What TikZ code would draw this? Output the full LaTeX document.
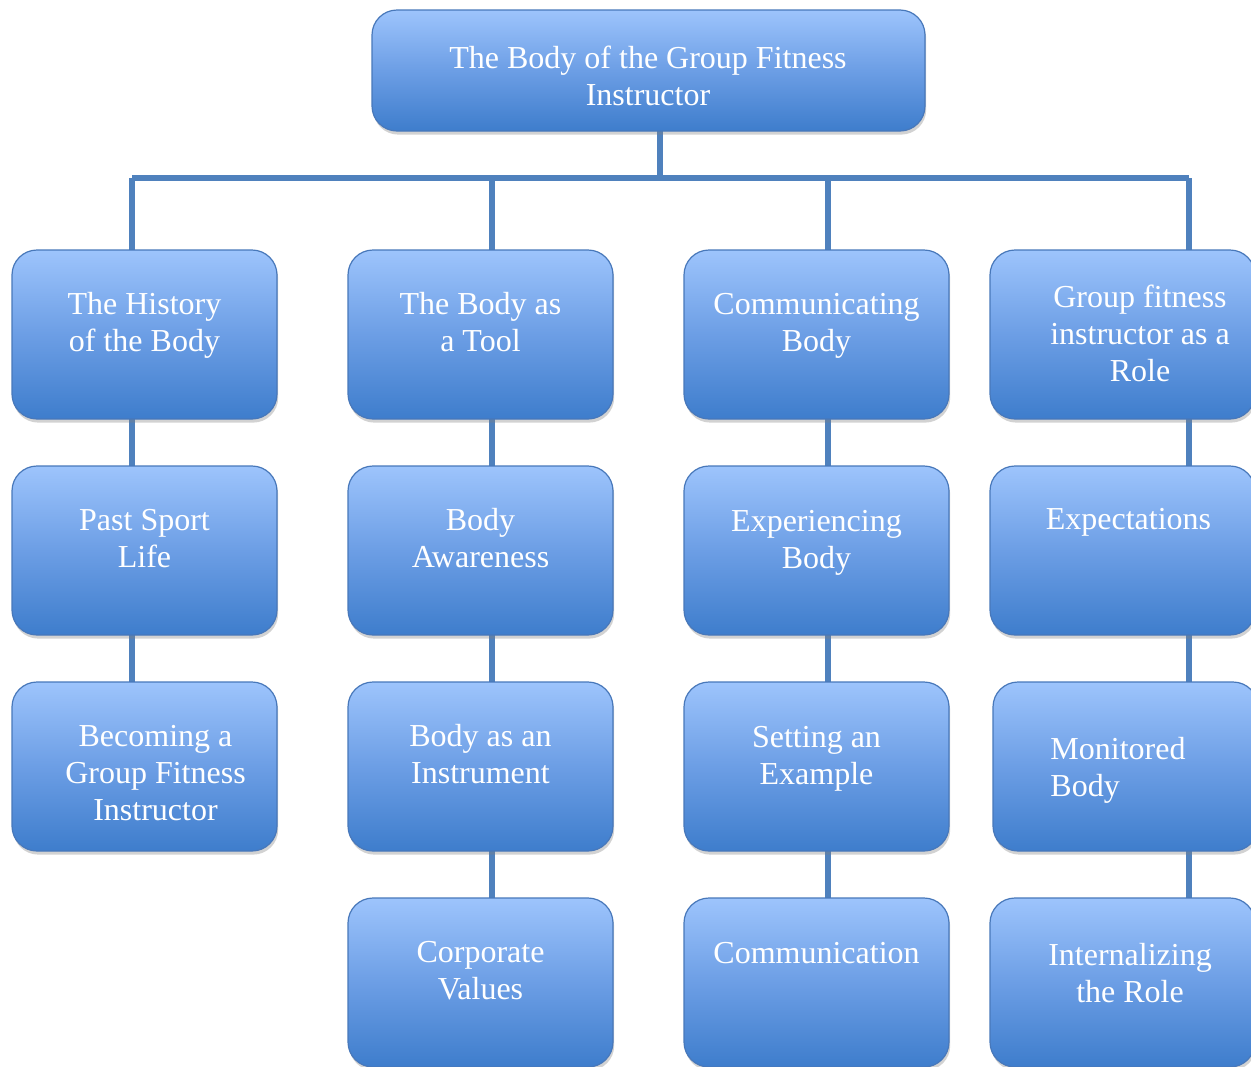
\documentclass[tikz,border=0pt]{standalone}
\usepackage{fontspec}
\setmainfont{Liberation Serif}
\usetikzlibrary{shadows}
\pgfdeclarelayer{backdrop}
\pgfdeclarelayer{background}
\pgfsetlayers{backdrop,background,main}
\definecolor{boxtop}{RGB}{157,196,252}
\definecolor{boxmid}{RGB}{108,158,229}
\definecolor{boxbot}{RGB}{62,125,204}
\definecolor{boxline}{RGB}{72,120,186}
\definecolor{linkblue}{RGB}{79,129,189}
\tikzset{
  box/.style={rectangle,rounded corners=12.5pt,draw=boxline,line width=0.6pt,
    top color=boxtop,bottom color=boxbot,middle color=boxmid,
    minimum width=132.5pt,minimum height=84.5pt,inner sep=0pt,outer sep=0pt,
    drop shadow={shadow xshift=0.6pt,shadow yshift=-1.8pt,opacity=0.35}},
  lbl/.style={text=white,align=center,inner sep=0pt,font=\fontsize{16}{18.5}\selectfont},
  conn/.style={draw=linkblue,line width=2.6pt}
}
\begin{document}
\begin{tikzpicture}[x=0.5pt,y=-0.5pt]
                \useasboundingbox (0,0) rectangle (1251,1066);
                \clip (0,0) rectangle (1251,1066);
                \begin{pgfonlayer}{backdrop}
                \fill[white] (0,0) rectangle (1251,1066);
                \end{pgfonlayer}
                %% connectors
                \coordinate (bar) at (660,178);
                \coordinate (k1) at (132,178);
                \coordinate (k2) at (492,178);
                \coordinate (k3) at (828,178);
                \coordinate (k4) at (1189,178);
                \node[box,minimum width=276.5pt,minimum height=60.5pt] (top) at (648.5,70.5) {};
                %% column one
                \node[box] (hist) at (144.5,334.5) {};
                \node[box] (past) at (144.5,550.5) {};
                \node[box] (becom) at (144.5,766.5) {};
                %% column two
                \node[box] (tool) at (480.5,334.5) {};
                \node[box] (aware) at (480.5,550.5) {};
                \node[box] (instr) at (480.5,766.5) {};
                \node[box] (corp) at (480.5,982.5) {};
                %% column three
                \node[box] (comm) at (816.5,334.5) {};
                \node[box] (exper) at (816.5,550.5) {};
                \node[box] (exmpl) at (816.5,766.5) {};
                \node[box] (commu) at (816.5,982.5) {};
                %% column four
                \node[box] (role) at (1122.5,334.5) {};
                \node[box] (expec) at (1122.5,550.5) {};
                \node[box] (monit) at (1125.5,766.5) {};
                \node[box] (intern) at (1122.5,982.5) {};
                \begin{pgfonlayer}{background}
                \draw[conn] (top.south -| bar) -- (bar);
                \draw[conn] (k1) -- (k4);
                \foreach \k/\n in {k1/hist,k2/tool,k3/comm,k4/role}
                    \draw[conn] (\k) -- (\k |- \n.north);
                \foreach \k/\a/\b in {k1/hist/past,k1/past/becom,
                    k2/tool/aware,k2/aware/instr,k2/instr/corp,
                    k3/comm/exper,k3/exper/exmpl,k3/exmpl/commu,
                    k4/role/expec,k4/expec/monit,k4/monit/intern}
                    \draw[conn] (\a.south -| \k) -- (\b.north -| \k);
                \end{pgfonlayer}
                %% texts
                \node[lbl] at (648,76) {The Body of the Group Fitness\\Instructor};
                \node[lbl] at (144.5,325.5) {The History\\of the Body};
                \node[lbl] at (144.5,538.5) {Past Sport\\Life};
                \node[lbl] at (155.5,773) {Becoming a\\Group Fitness\\Instructor};
                \node[lbl] at (480.5,322) {The Body as\\a Tool};
                \node[lbl] at (480.5,538.5) {Body\\Awareness};
                \node[lbl] at (480.5,754.5) {Body as an\\Instrument};
                \node[lbl] at (480.5,970.5) {Corporate\\Values};
                \node[lbl] at (816.5,326) {Communicating\\Body};
                \node[lbl] at (816.5,542.5) {Experiencing\\Body};
                \node[lbl] at (816.5,758.5) {Setting an\\Example};
                \node[lbl] at (816.5,953) {Communication};
                \node[lbl] at (1140,333.5) {Group fitness\\instructor as a\\Role};
                \node[lbl] at (1128.5,522) {Expectations};
                \node[lbl,align=left,anchor=west] at (1050,770) {Monitored\\Body};
                \node[lbl] at (1130,973) {Internalizing\\the Role};
            \end{tikzpicture}
\end{document}
